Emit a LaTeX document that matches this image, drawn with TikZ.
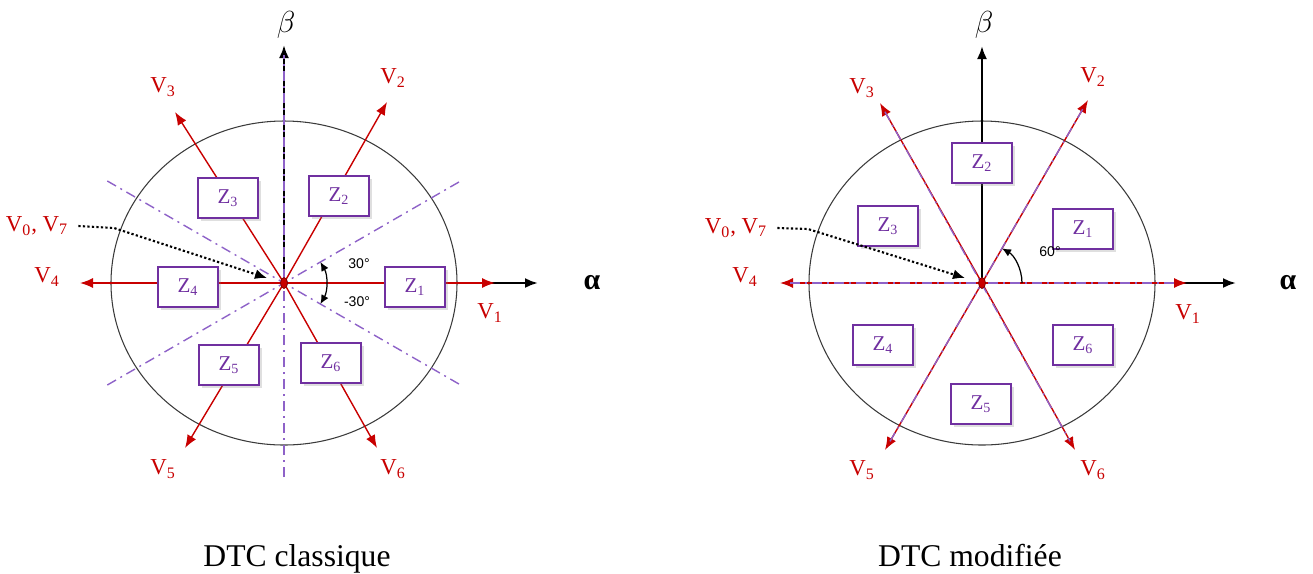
\documentclass[tikz,border=0pt]{standalone}
\usepackage{amsmath}
\usepackage{fontspec}
\setmainfont{Liberation Serif}
\newfontfamily\sansfam{Liberation Sans}
\usetikzlibrary{arrows.meta,positioning,shapes.geometric,shadows}
\definecolor{VecRed}{HTML}{C80000}
\definecolor{ZonePurple}{HTML}{7030A0}
\definecolor{Lilac}{HTML}{8E62C8}
\definecolor{Rim}{HTML}{3A3A3A}
\tikzset{
  rim/.style={draw=Rim,line width=0.6pt},
  axis/.style={-{Latex[length=2.6mm,width=2mm]},line width=1.3pt,draw=black},
  vec/.style={-{Latex[length=2.6mm,width=2mm]},line width=0.8pt,draw=VecRed},
  sector/.style={draw=Lilac,line width=0.8pt,dash pattern=on 2mm off 1mm on 0.4mm off 1mm},
  zonebox/.style={draw=ZonePurple,line width=0.8pt,fill=white,minimum width=12mm,minimum height=8mm,text=ZonePurple,font=\fontsize{12}{14}\selectfont,drop shadow={opacity=0.25,shadow xshift=0.5mm,shadow yshift=-0.5mm}},
  vlabel/.style={text=VecRed,font=\fontsize{13}{15}\selectfont,inner sep=0pt},
  anglabel/.style={font=\sansfam\fontsize{8}{9}\selectfont,inner sep=0pt},
  anglearc/.style={line width=0.7pt,draw=black},
  hint/.style={-{Latex[length=2.4mm,width=2mm]},line width=1.2pt,dash pattern=on 0.45mm off 0.45mm,draw=black},
  dot/.style={ellipse,draw=VecRed!60!black,fill=VecRed,minimum width=1.4mm,minimum height=2.2mm,inner sep=0pt},
  greek/.style={font=\fontsize{17}{20}\selectfont},
  caption/.style={font=\fontsize{18}{21}\selectfont,anchor=base}
}

\begin{document}
\begin{tikzpicture}[x=0.2mm,y=0.2mm]
  \useasboundingbox (0,0) rectangle (1313,-573);

  % DTC classique
  \begin{scope}[shift={(284,-283)}]
    \coordinate (cO) at (0,0);
    \coordinate (cA) at (254,0);
    \coordinate (cB) at (0,238);
    \draw[rim] (cO) ellipse[x radius=34.6mm,y radius=32.4mm];
    \draw[axis] (cO) -- (cA);
    \draw[axis] (cO) -- (cB);
    \node[greek] (cAlpha) at (308,0) {\textbf{α}};
    \node[greek] (cBeta) at (2,258) {$\beta$};

    \foreach \n/\x/\y in {1/211/0,2/103/181,3/-109/171,4/-204/0,5/-99/-165,6/93/-165}{
      \coordinate (cV\n) at (\x,\y);
      \draw[vec] (cO) -- (cV\n);
    }
    \draw[sector] (210:204) -- (30:204);
    \draw[sector] (150:204) -- (-30:204);
    \draw[sector] (0,-194) -- (0,228);

    \foreach \n/\x/\y in {1/206/-30,2/109/205,3/-121/196,4/-237/6,5/-121/-186,6/109/-186}
      \node[vlabel] (cL\n) at (\x,\y) {V\textsubscript{\n}};

    \foreach \n/\x/\y in {1/131/-4,2/55/87,3/-56/85,4/-96/-4,5/-55/-82,6/47/-80}
      \node[zonebox] (cZ\n) at (\x,\y) {Z\textsubscript{\n}};

    \draw[anglearc,{Latex[length=1.8mm,width=1.6mm]}-{Latex[length=1.8mm,width=1.6mm]}] (-30:42) arc[start angle=-30,end angle=30,radius=8.4mm];
    \node[anglabel] (cP30) at (75,19) {30°};
    \node[anglabel] (cM30) at (73,-19) {-30°};

    \node[vlabel] (c07) at (-247,57) {V\textsubscript{0}, V\textsubscript{7}};
    \coordinate (c07tip) at (-17,5);
    \draw[hint] ([xshift=2mm]c07.east) -- (-170,55) -- (c07tip);
    \node[dot] (cDot) at (cO) {};
  \end{scope}

  % DTC modifiee
  \begin{scope}[shift={(982,-283)}]
    \coordinate (mO) at (0,0);
    \coordinate (mA) at (254,0);
    \coordinate (mB) at (0,237);
    \draw[rim] (mO) ellipse[x radius=34.6mm,y radius=32.4mm];
    \draw[axis] (mO) -- (mA);
    \draw[axis] (mO) -- (mB);
    \node[greek] (mAlpha) at (306,0) {\textbf{α}};
    \node[greek] (mBeta) at (2,258) {$\beta$};

    \foreach \n/\x/\y in {1/205/0,2/106/183,3/-102/180,4/-202/0,5/-97/-167,6/93/-167}{
      \coordinate (mV\n) at (\x,\y);
      \draw[vec] (mO) -- (mV\n);
    }
    \draw[sector,shorten <=2mm,shorten >=2mm] (mV4) -- (mV1);
    \draw[sector,shorten <=2mm,shorten >=2mm] (mV5) -- (mV2);
    \draw[sector,shorten <=2mm,shorten >=2mm] (mV3) -- (mV6);

    \foreach \n/\x/\y in {1/206/-31,2/111/206,3/-120/195,4/-237/6,5/-120/-187,6/111/-187}
      \node[vlabel] (mL\n) at (\x,\y) {V\textsubscript{\n}};

    \foreach \n/\x/\y in {1/101/54,2/0/120,3/-94/57,4/-99/-62,5/-1/-121,6/101/-62}
      \node[zonebox] (mZ\n) at (\x,\y) {Z\textsubscript{\n}};

    \draw[anglearc,-{Latex[length=1.8mm,width=1.6mm]}] (0:40) arc[start angle=0,end angle=60,radius=8mm];
    \node[anglabel] (m60) at (68,31) {60°};

    \node[vlabel] (m07) at (-246,55) {V\textsubscript{0}, V\textsubscript{7}};
    \coordinate (m07tip) at (-17,5);
    \draw[hint] ([xshift=2mm]m07.east) -- (-174,54) -- (m07tip);
    \node[dot] (mDot) at (mO) {};
  \end{scope}

  \node[caption] (capC) at (297,-566) {DTC classique};
  \node[caption] (capM) at (970,-566) {DTC modifiée};
\end{tikzpicture}
\end{document}
